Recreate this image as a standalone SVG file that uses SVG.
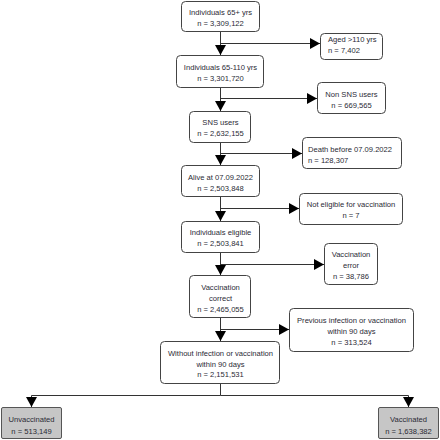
<svg xmlns="http://www.w3.org/2000/svg" width="440" height="440" viewBox="0 0 440 440">
<defs>
<marker id="ah" markerUnits="userSpaceOnUse" markerWidth="10" markerHeight="11" refX="10" refY="5.5" orient="auto">
<path d="M0,0 L10,5.5 L0,11 z" fill="#000"/>
</marker>
<style>
.b{fill:#fff;stroke:#444;stroke-width:1}
.g{fill:#c6c6c6;stroke:#555;stroke-width:1}
text{font-family:"Liberation Sans",Arial,sans-serif;font-size:7.6px;fill:#2a2a35;text-anchor:middle}
text.l{text-anchor:start}
.c{fill:none;stroke:#333;stroke-width:1}
</style>
</defs>
<rect width="440" height="440" fill="#fff"/>
<g id="connectors">
<path class="c" d="M220.5,31 V55" marker-end="url(#ah)"/>
<path class="c" d="M220.5,43.5 H320" marker-end="url(#ah)"/>
<path class="c" d="M220.5,88 V111" marker-end="url(#ah)"/>
<path class="c" d="M220.5,98.5 H317" marker-end="url(#ah)"/>
<path class="c" d="M220.5,142 V165" marker-end="url(#ah)"/>
<path class="c" d="M220.5,153.5 H302" marker-end="url(#ah)"/>
<path class="c" d="M220.5,197 V221" marker-end="url(#ah)"/>
<path class="c" d="M220.5,208.5 H299" marker-end="url(#ah)"/>
<path class="c" d="M220.5,252 V275" marker-end="url(#ah)"/>
<path class="c" d="M220.5,264.5 H324" marker-end="url(#ah)"/>
<path class="c" d="M220.5,318 V341" marker-end="url(#ah)"/>
<path class="c" d="M220.5,329.5 H289" marker-end="url(#ah)"/>
<path class="c" d="M220.5,384 V395.5"/>
<path class="c" d="M220.5,395.5 H31.5 V407" marker-end="url(#ah)"/>
<path class="c" d="M220.5,395.5 H408.5 V407" marker-end="url(#ah)"/>
</g>
<g id="n1"><rect class="b" x="181.5" y="1.5" width="78" height="30" rx="4"/><text x="220.5" y="15">Individuals 65+ yrs</text><text x="220.5" y="26">n = 3,309,122</text></g>
<g id="n2"><rect class="b" x="320.5" y="33.5" width="62" height="26" rx="4"/><text class="l" x="328" y="42">Aged &gt;110 yrs</text><text class="l" x="328" y="53">n = 7,402</text></g>
<g id="n3"><rect class="b" x="176.5" y="55.5" width="87" height="32" rx="4"/><text x="220.5" y="70">Individuals 65-110 yrs</text><text x="220.5" y="81">n = 3,301,720</text></g>
<g id="n4"><rect class="b" x="317.5" y="82.5" width="68" height="31" rx="4"/><text x="351.5" y="97">Non SNS users</text><text x="351.5" y="108">n = 669,565</text></g>
<g id="n5"><rect class="b" x="189.5" y="111.5" width="61" height="31" rx="4"/><text x="220.5" y="125">SNS users</text><text x="220.5" y="136">n = 2,632,155</text></g>
<g id="n6"><rect class="b" x="302.5" y="137.5" width="99" height="31" rx="4"/><text class="l" x="308" y="152">Death before 07.09.2022</text><text class="l" x="308" y="163">n = 128,307</text></g>
<g id="n7"><rect class="b" x="181.5" y="165.5" width="78" height="31" rx="4"/><text x="220.5" y="180">Alive at 07.09.2022</text><text x="220.5" y="191">n = 2,503,848</text></g>
<g id="n8"><rect class="b" x="299.5" y="193.5" width="103" height="31" rx="4"/><text x="351" y="207">Not eligible for vaccination</text><text x="351" y="218">n = 7</text></g>
<g id="n9"><rect class="b" x="181.5" y="221.5" width="78" height="31" rx="4"/><text x="220.5" y="235">Individuals eligible</text><text x="220.5" y="246">n = 2,503,841</text></g>
<g id="n10"><rect class="b" x="324.5" y="243.5" width="53" height="41" rx="4"/><text x="351" y="257">Vaccination</text><text x="351" y="268">error</text><text x="351" y="279">n = 38,786</text></g>
<g id="n11"><rect class="b" x="189.5" y="275.5" width="61" height="42" rx="4"/><text x="220.5" y="290">Vaccination</text><text x="220.5" y="301">correct</text><text x="220.5" y="312">n = 2,465,055</text></g>
<g id="n12"><rect class="b" x="289.5" y="308.5" width="124" height="43" rx="4"/><text x="351.5" y="323">Previous infection or vaccination</text><text x="351.5" y="334">within 90 days</text><text x="351.5" y="345">n = 313,524</text></g>
<g id="n13"><rect class="b" x="160.5" y="341.5" width="119" height="42" rx="4"/><text x="220.5" y="356">Without infection or vaccination</text><text x="220.5" y="367">within 90 days</text><text x="220.5" y="377">n = 2,151,531</text></g>
<g id="n14"><rect class="g" x="1.5" y="407.5" width="60" height="31" rx="1.5"/><text x="31.5" y="422">Unvaccinated</text><text x="31.5" y="434">n = 513,149</text></g>
<g id="n15"><rect class="g" x="378.5" y="407.5" width="60" height="31" rx="1.5"/><text x="408.5" y="422">Vaccinated</text><text x="408.5" y="434">n = 1,638,382</text></g>
</svg>
